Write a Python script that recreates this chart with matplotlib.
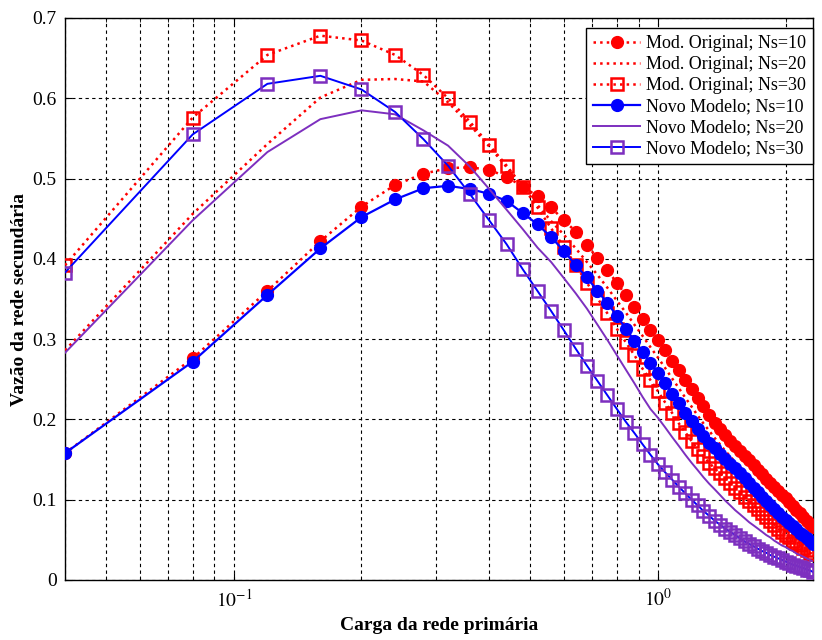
import numpy as np
import matplotlib
matplotlib.use("Agg")
import matplotlib.pyplot as plt
from matplotlib.ticker import LogLocator, NullFormatter, FixedLocator

plt.rcParams['font.family'] = ['Liberation Serif', 'DejaVu Serif']
plt.rcParams['mathtext.fontset'] = 'stix'

# Primary network load (x)
carga = [0.04, 0.08, 0.12, 0.16, 0.20, 0.24, 0.28, 0.32, 0.36, 0.40,
         0.44, 0.48, 0.52, 0.56, 0.60, 0.64, 0.68, 0.72, 0.76, 0.80,
         0.84, 0.88, 0.92, 0.96, 1.00, 1.04, 1.08, 1.12, 1.16, 1.20,
         1.24, 1.28, 1.32, 1.36, 1.40, 1.44, 1.48, 1.52, 1.56, 1.60,
         1.64, 1.68, 1.72, 1.76, 1.80, 1.84, 1.88, 1.92, 1.96, 2.00,
         2.04, 2.08, 2.12, 2.16, 2.20, 2.24, 2.28, 2.32]

orig_ns10 = [0.158, 0.276, 0.360, 0.422, 0.465, 0.492, 0.506, 0.513, 0.514, 0.511,
             0.502, 0.490, 0.478, 0.464, 0.448, 0.434, 0.417, 0.401, 0.386, 0.370,
             0.355, 0.340, 0.325, 0.311, 0.299, 0.286, 0.273, 0.261, 0.249, 0.238,
             0.227, 0.217, 0.206, 0.196, 0.188, 0.181, 0.173, 0.167, 0.161, 0.155,
             0.149, 0.143, 0.137, 0.132, 0.126, 0.121, 0.116, 0.111, 0.106, 0.102,
             0.097, 0.092, 0.087, 0.083, 0.079, 0.074, 0.070, 0.066]

orig_ns20 = [0.286, 0.456, 0.543, 0.601, 0.623, 0.624, 0.621, 0.595, 0.567, 0.540,
             0.514, 0.490, 0.467, 0.447, 0.430, 0.413, 0.396, 0.380, 0.364, 0.348,
             0.333, 0.318, 0.304, 0.290, 0.277, 0.264, 0.251, 0.239, 0.227, 0.216,
             0.205, 0.195, 0.186, 0.177, 0.169, 0.161, 0.154, 0.147, 0.140, 0.133,
             0.127, 0.121, 0.115, 0.109, 0.104, 0.099, 0.094, 0.089, 0.084, 0.080,
             0.076, 0.072, 0.068, 0.064, 0.060, 0.057, 0.053, 0.050]

orig_ns30 = [0.392, 0.576, 0.654, 0.678, 0.672, 0.654, 0.629, 0.600, 0.571, 0.542,
             0.516, 0.490, 0.464, 0.438, 0.415, 0.392, 0.370, 0.351, 0.332, 0.313,
             0.296, 0.280, 0.263, 0.249, 0.235, 0.221, 0.208, 0.195, 0.184, 0.173,
             0.163, 0.154, 0.146, 0.139, 0.133, 0.127, 0.121, 0.115, 0.109, 0.104,
             0.098, 0.093, 0.088, 0.083, 0.078, 0.073, 0.069, 0.064, 0.060, 0.056,
             0.053, 0.049, 0.046, 0.043, 0.040, 0.037, 0.034, 0.032]

novo_ns10 = [0.158, 0.272, 0.355, 0.413, 0.452, 0.474, 0.488, 0.491, 0.487, 0.481,
             0.472, 0.457, 0.443, 0.427, 0.410, 0.392, 0.377, 0.360, 0.345, 0.329,
             0.313, 0.298, 0.284, 0.270, 0.258, 0.245, 0.232, 0.220, 0.208, 0.198,
             0.188, 0.179, 0.171, 0.164, 0.157, 0.151, 0.145, 0.139, 0.133, 0.127,
             0.121, 0.115, 0.110, 0.104, 0.099, 0.094, 0.089, 0.084, 0.079, 0.075,
             0.071, 0.067, 0.063, 0.059, 0.056, 0.052, 0.049, 0.045]

novo_ns20 = [0.283, 0.448, 0.533, 0.574, 0.585, 0.580, 0.560, 0.541, 0.515, 0.487,
             0.461, 0.437, 0.414, 0.396, 0.376, 0.357, 0.338, 0.318, 0.299, 0.280,
             0.262, 0.245, 0.228, 0.213, 0.202, 0.190, 0.178, 0.167, 0.156, 0.146,
             0.137, 0.128, 0.120, 0.113, 0.106, 0.099, 0.093, 0.087, 0.082, 0.077,
             0.072, 0.068, 0.064, 0.060, 0.056, 0.053, 0.049, 0.046, 0.043, 0.041,
             0.038, 0.036, 0.033, 0.031, 0.029, 0.027, 0.025, 0.023]

novo_ns30 = [0.383, 0.555, 0.618, 0.628, 0.611, 0.583, 0.549, 0.516, 0.481, 0.448,
             0.418, 0.387, 0.360, 0.335, 0.311, 0.288, 0.267, 0.248, 0.230, 0.213,
             0.197, 0.183, 0.169, 0.156, 0.144, 0.134, 0.125, 0.116, 0.108, 0.100,
             0.093, 0.086, 0.080, 0.074, 0.069, 0.064, 0.060, 0.056, 0.052, 0.048,
             0.045, 0.042, 0.039, 0.036, 0.034, 0.031, 0.029, 0.027, 0.025, 0.023,
             0.021, 0.019, 0.018, 0.016, 0.015, 0.013, 0.012, 0.010]

labels = ['Mod. Original; Ns=10', 'Mod. Original; Ns=20', 'Mod. Original; Ns=30',
          'Novo Modelo; Ns=10', 'Novo Modelo; Ns=20', 'Novo Modelo; Ns=30']

RED = '#ff0000'
BLUE = '#0000ff'
PURPLE = '#7d2fbf'

fig = plt.figure(figsize=(8.22, 6.40), dpi=100)
ax = fig.add_axes([65/822, 1-580/640, (813-65)/822, (580-18)/640])

ax.plot(carga, orig_ns10, linestyle=':', color=RED, lw=1.8, marker='o', ms=8.5,
        mfc=RED, mec=RED, label=labels[0], zorder=3)
ax.plot(carga, orig_ns20, linestyle=':', color=RED, lw=1.8, label=labels[1], zorder=3)
ax.plot(carga, orig_ns30, linestyle=':', color=RED, lw=1.8, marker='s', ms=8.5,
        mfc='none', mec=RED, mew=1.8, label=labels[2], zorder=3)
ax.plot(carga, novo_ns10, linestyle='-', color=BLUE, lw=1.6, marker='o', ms=8.5,
        mfc=BLUE, mec=BLUE, label=labels[3], zorder=4)
ax.plot(carga, novo_ns20, linestyle='-', color=PURPLE, lw=1.4, label=labels[4], zorder=4)
ax.plot(carga, novo_ns30, linestyle='-', color=BLUE, lw=1.4, marker='s', ms=8.5,
        mfc='none', mec=PURPLE, mew=1.8, label=labels[5], zorder=5)

ax.set_xscale('log')
ax.set_xlim(0.04, 2.32)
ax.set_ylim(0, 0.7)
ax.set_yticks([0, 0.1, 0.2, 0.3, 0.4, 0.5, 0.6, 0.7])
ax.set_yticklabels(['0', '0.1', '0.2', '0.3', '0.4', '0.5', '0.6', '0.7'])
ax.xaxis.set_major_locator(FixedLocator([0.1, 1.0]))
ax.set_xticklabels([r'$10^{-1}$', r'$10^{0}$'])
ax.xaxis.set_minor_locator(LogLocator(base=10, subs=np.arange(2, 10), numticks=20))
ax.xaxis.set_minor_formatter(NullFormatter())

ax.tick_params(which='both', direction='in', top=True, right=True, colors='black')
ax.tick_params(which='major', length=5, labelsize=14, pad=6)
ax.tick_params(which='minor', length=3)

ax.grid(True, which='major', axis='both', color='black', linestyle=(0, (3, 3)), lw=0.8)
ax.grid(True, which='minor', axis='x', color='black', linestyle=(0, (3, 3)), lw=0.8)
ax.set_axisbelow(True)
for s in ax.spines.values():
    s.set_color('black')
    s.set_linewidth(1.0)

ax.set_xlabel('Carga da rede primária', fontsize=14, fontweight='bold', labelpad=5)
ax.set_ylabel('Vazão da rede secundária', fontsize=14, fontweight='bold', labelpad=3)

leg = ax.legend(loc='upper right', bbox_to_anchor=(1.0, 0.982), borderaxespad=0,
                fancybox=False, edgecolor='black', framealpha=1, fontsize=13,
                handlelength=2.6, handletextpad=0.3, labelspacing=0.22, borderpad=0.4)
leg.get_frame().set_linewidth(1.0)

fig.savefig('out.png', dpi=100)
